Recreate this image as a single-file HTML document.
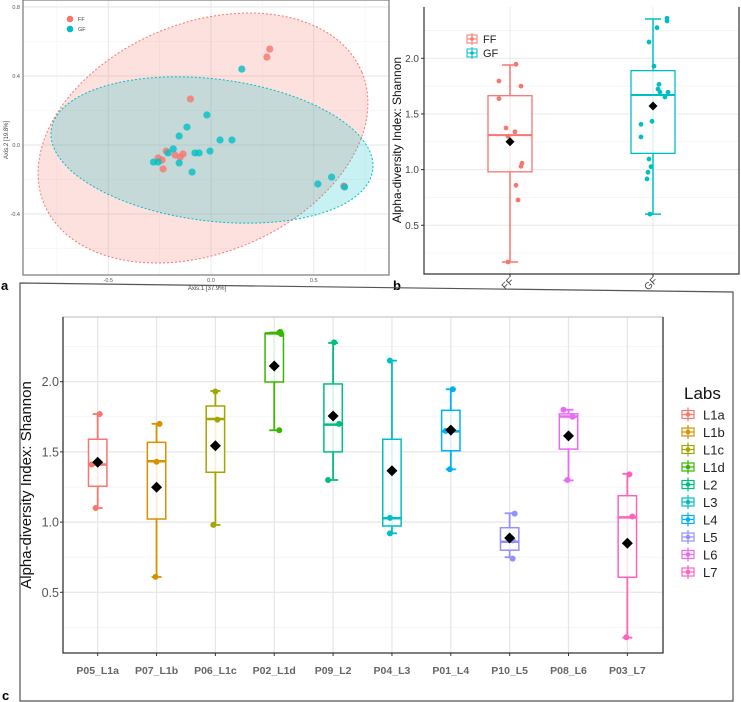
<!DOCTYPE html>
<html><head><meta charset="utf-8"><style>
html,body{margin:0;padding:0;background:#fff;}
svg{display:block;font-family:"Liberation Sans",sans-serif;}
</style></head><body>
<svg id="fig" width="741" height="702" viewBox="0 0 741 702" xmlns="http://www.w3.org/2000/svg">
<g id="pa"></g>
<g id="pb"></g>
<g id="pc"></g>
</svg>
<script>
// ---------- Panel a data ----------
const ffX = [0.286,0.272,-0.10,-0.218,-0.257,-0.238,-0.175,-0.136,-0.15,-0.233,0.646];
const ffY = [0.556,0.51,0.267,-0.035,-0.075,-0.087,-0.058,-0.052,-0.07,-0.139,-0.238];
const gfX = [0.15,-0.02,-0.117,-0.155,0.044,0.102,-0.184,-0.209,-0.28,-0.257,-0.155,-0.078,-0.058,-0.005,-0.092,0.52,0.587,0.65];
const gfY = [0.44,0.174,0.104,0.052,0.029,0.029,-0.023,-0.046,-0.099,-0.099,-0.104,-0.046,-0.046,-0.035,-0.157,-0.226,-0.186,-0.243];
const aXTicks = [-0.5,0.0,0.5];
const aYTicks = [-0.4,0.0,0.4,0.8];
// ---------- Panel b data ----------
const bGroups = ["FF","GF"];
const bStats = [[0.17,0.98,1.31,1.664,1.94],[0.60,1.146,1.67,1.889,2.353]];
const bMeans = [1.25,1.571];
const bFF = [1.796,1.946,1.75,1.637,1.374,1.34,1.30,1.057,1.03,0.859,0.727,0.17];
const bFFjit = [-11,6,11,-11,-4,5,-2,12,11,6,8,-2];
const bGF = [2.36,2.335,2.275,2.146,1.93,1.766,1.724,1.697,1.695,1.652,1.407,1.434,1.293,1.095,1.026,0.976,0.916,0.60];
const bGFjit = [14,14,4,-4,1,6,5,7,15,12,-12,-1,-12,-4,-2,-5,-6,-3];
const bYTicks = [0.5,1.0,1.5,2.0];
// ---------- Panel c data ----------
const cCats = ["P05_L1a","P07_L1b","P06_L1c","P02_L1d","P09_L2","P04_L3","P01_L4","P10_L5","P08_L6","P03_L7"];
const cLabs = ["L1a","L1b","L1c","L1d","L2","L3","L4","L5","L6","L7"];
const cMin = [1.10,0.609,0.98,1.654,1.30,0.92,1.376,0.75,1.297,0.177];
const cQ1 = [1.255,1.022,1.355,1.998,1.50,0.972,1.508,0.80,1.52,0.607];
const cMed = [1.41,1.433,1.734,2.344,1.694,1.027,1.646,0.86,1.752,1.034];
const cQ3 = [1.59,1.568,1.827,2.344,1.984,1.59,1.796,0.96,1.771,1.188];
const cMax = [1.77,1.70,1.934,2.35,2.276,2.15,1.946,1.063,1.80,1.344];
const cMean = [1.426,1.248,1.544,2.112,1.756,1.366,1.655,0.887,1.614,0.849];
const cPts = [[1.77,1.41,1.10],[1.70,1.43,0.61],[1.93,1.73,0.98],[2.35,2.355,2.34,1.654],[2.28,1.70,1.30],[2.15,1.03,0.92],[1.946,1.65,1.376],[1.06,0.87,0.74],[1.80,1.75,1.30],[1.34,1.04,0.18]];
const cJit = [[2,-6,-2],[3,0,-1],[0,2,-2],[5,6,7,5],[1,6,-5],[-2,-2,-2],[2,-5,-1],[5,3,3],[-5,4,-1],[2,5,-1]];
const cYTicks = [0.5,1.0,1.5,2.0];
const colors = ["#F8766D","#D89000","#A3A500","#39B600","#00BF7D","#00BFC4","#00B0F6","#9590FF","#E76BF3","#FF62BC"];

const NS="http://www.w3.org/2000/svg";
function mk(parent, tag, attrs, text){const e=document.createElementNS(NS,tag);for(const k in attrs)e.setAttribute(k,attrs[k]);if(text!==undefined)e.textContent=text;parent.appendChild(e);return e;}

// ===== Panel a =====
(function(){
 const g=document.getElementById('pa');
 const L=23,R=389,T=0,B=275;
 const ax=v=>211+v*205.5, ay=v=>145-v*172.5;
 mk(g,'rect',{x:L,y:T,width:R-L,height:B-T,fill:'#fff'});
 [-0.75,-0.25,0.25,0.75].forEach(v=>{mk(g,'line',{x1:ax(v),x2:ax(v),y1:T,y2:B,stroke:'#f2f2f2','stroke-width':0.6});});
 [-0.6,-0.2,0.2,0.6].forEach(v=>{mk(g,'line',{x1:L,x2:R,y1:ay(v),y2:ay(v),stroke:'#f2f2f2','stroke-width':0.6});});
 aXTicks.forEach(v=>{const l=mk(g,'line',{x1:ax(v),x2:ax(v),y1:T,y2:B,stroke:'#e6e6e6','stroke-width':0.9});
   const t=mk(g,'text',{x:ax(v),y:B+7,'font-size':5.5,fill:'#555','text-anchor':'middle'},v.toFixed(1));});
 aYTicks.forEach(v=>{mk(g,'line',{x1:L,x2:R,y1:ay(v),y2:ay(v),stroke:'#e6e6e6','stroke-width':0.9});
   const t=mk(g,'text',{x:L-3,y:ay(v)+2,'font-size':5.5,fill:'#555','text-anchor':'end'},v.toFixed(1));});
 const e1=mk(g,'ellipse',{cx:203,cy:138,rx:172,ry:115,transform:'rotate(-22.5 203 138)',fill:'#F8766D','fill-opacity':0.22,stroke:'#F8766D','stroke-width':1,'stroke-dasharray':'2,2'});
 
 const e2=mk(g,'ellipse',{cx:212,cy:150,rx:162,ry:71,transform:'rotate(7 212 150)',fill:'#00BFC4','fill-opacity':0.22,stroke:'#00BFC4','stroke-width':1,'stroke-dasharray':'2,2'});
 
 ffX.forEach((x,i)=>{const c=mk(g,'circle',{cx:ax(x),cy:ay(ffY[i]),r:3.6,fill:'#F8766D','fill-opacity':0.8});});
 gfX.forEach((x,i)=>{const c=mk(g,'circle',{cx:ax(x),cy:ay(gfY[i]),r:3.6,fill:'#00BFC4','fill-opacity':0.8});});
 mk(g,'rect',{x:L,y:T,width:R-L,height:B-T,fill:'none',stroke:'#777','stroke-width':1.2});
 mk(g,'circle',{cx:70,cy:19,r:3.3,fill:'#F8766D'});mk(g,'text',{x:78,y:21,'font-size':5.5,fill:'#444'},'FF');
 mk(g,'circle',{cx:70,cy:29,r:3.3,fill:'#00BFC4'});mk(g,'text',{x:78,y:31,'font-size':5.5,fill:'#444'},'GF');
 const xt=mk(g,'text',{x:207,y:290,'font-size':6,fill:'#444','text-anchor':'middle'},'Axis.1   [37.9%]');
 const yt=mk(g,'text',{x:8,y:140,'font-size':6,fill:'#444','text-anchor':'middle',transform:'rotate(-90 8 140)'},'Axis.2   [19.8%]');
 mk(g,'text',{x:1,y:290,'font-size':13,'font-weight':'bold',fill:'#000'},'a');
})();

// ===== Panel b =====
(function(){
 const g=document.getElementById('pb');
 const L=424,R=739,T=7,B=274;
 const by=v=>58.3+(2.0-v)*111.3;
 const bx=[510,653];
 [0.25,0.75,1.25,1.75,2.25].forEach(v=>mk(g,'line',{x1:L,x2:R,y1:by(v),y2:by(v),stroke:'#f2f2f2','stroke-width':0.7}));
 bYTicks.forEach(v=>{mk(g,'line',{x1:L,x2:R,y1:by(v),y2:by(v),stroke:'#e8e8e8','stroke-width':1});
  mk(g,'line',{x1:L-3,x2:L,y1:by(v),y2:by(v),stroke:'#333'});
  const t=mk(g,'text',{x:L-5,y:by(v)+3.5,'font-size':10,fill:'#444','text-anchor':'end'},v.toFixed(1));});
 bx.forEach(x=>mk(g,'line',{x1:x,x2:x,y1:T,y2:B,stroke:'#e8e8e8','stroke-width':1}));
 const cols=['#F8766D','#00BFC4'];
 bStats.forEach((s,i)=>{const x=bx[i],c=cols[i],hw=22;
  mk(g,'line',{x1:x,x2:x,y1:by(s[0]),y2:by(s[4]),stroke:c,'stroke-width':1.5});
  mk(g,'line',{x1:x-8,x2:x+8,y1:by(s[0]),y2:by(s[0]),stroke:c,'stroke-width':1.5});
  mk(g,'line',{x1:x-8,x2:x+8,y1:by(s[4]),y2:by(s[4]),stroke:c,'stroke-width':1.5});
  const r=mk(g,'rect',{x:x-hw,y:by(s[3]),width:2*hw,height:by(s[1])-by(s[3]),fill:'#fff','fill-opacity':0.85,stroke:c,'stroke-width':1.3});
  
  mk(g,'line',{x1:x-hw,x2:x+hw,y1:by(s[2]),y2:by(s[2]),stroke:c,'stroke-width':2});
  const t=mk(g,'text',{x:x,y:B+12,'font-size':10,fill:'#444','text-anchor':'middle',transform:`rotate(-45 ${x} ${B+12})`},bGroups[i]);
  mk(g,'line',{x1:x,x2:x,y1:B,y2:B+3,stroke:'#333'});
 });
 bFF.forEach((v,i)=>{const c=mk(g,'circle',{cx:bx[0]+bFFjit[i],cy:by(v),r:2.4,fill:'#F8766D'});});
 bGF.forEach((v,i)=>{const c=mk(g,'circle',{cx:bx[1]+bGFjit[i],cy:by(v),r:2.4,fill:'#00BFC4'});});
 bMeans.forEach((v,i)=>{const x=bx[i],y=by(v);const d=mk(g,'polygon',{points:`${x},${y-4.5} ${x+4.5},${y} ${x},${y+4.5} ${x-4.5},${y}`,fill:'#000'});});
 mk(g,'polyline',{points:`${L},${T} ${L},${B} ${R},${B} ${R},${T}`,fill:'none',stroke:'#333','stroke-width':1.2});
 [['FF','#F8766D',39],['GF','#00BFC4',53]].forEach(([n,c,y])=>{
  mk(g,'rect',{x:467,y:y-4,width:10,height:8,fill:'#fff',stroke:c,'stroke-width':1});
  mk(g,'line',{x1:472,x2:472,y1:y-6,y2:y+6,stroke:c});mk(g,'line',{x1:467,x2:477,y1:y,y2:y,stroke:c});
  mk(g,'circle',{cx:472,cy:y,r:1.8,fill:c});
  mk(g,'text',{x:483,y:y+4,'font-size':11,fill:'#222'},n);});
 const yt=mk(g,'text',{x:401,y:140,'font-size':12,fill:'#111','text-anchor':'middle',transform:'rotate(-90 401 140)'},'Alpha-diversity Index: Shannon');
 mk(g,'text',{x:393,y:290,'font-size':13,'font-weight':'bold',fill:'#000'},'b');
})();

// ===== Panel c =====
(function(){
 const g=document.getElementById('pc');
 mk(g,'polygon',{points:'20,283 733,292 733,701 20,701',fill:'none',stroke:'#555','stroke-width':1.2});
 const L=63,R=663,T=317,B=653;
 const cy=v=>381.7+(2.0-v)*140.4;
 const cx=i=>97.7+i*58.85;
 mk(g,'rect',{x:L,y:T,width:R-L,height:B-T,fill:'#fff'});
 [0.25,0.75,1.25,1.75,2.25].forEach(v=>mk(g,'line',{x1:L,x2:R,y1:cy(v),y2:cy(v),stroke:'#f2f2f2','stroke-width':0.8}));
 cYTicks.forEach(v=>{mk(g,'line',{x1:L,x2:R,y1:cy(v),y2:cy(v),stroke:'#e6e6e6','stroke-width':1.2});
  mk(g,'line',{x1:L-3,x2:L,y1:cy(v),y2:cy(v),stroke:'#333'});
  const t=mk(g,'text',{x:L-4,y:cy(v)+4.5,'font-size':12.5,fill:'#555','text-anchor':'end'},v.toFixed(1));});
 cCats.forEach((n,i)=>{const x=cx(i);mk(g,'line',{x1:x,x2:x,y1:T,y2:B,stroke:'#e6e6e6','stroke-width':1.2});
  mk(g,'line',{x1:x,x2:x,y1:B,y2:B+3,stroke:'#333'});
  const t=mk(g,'text',{x:x,y:674,'font-size':10.5,'font-weight':'bold',fill:'#666','text-anchor':'middle'},n);});
 cCats.forEach((n,i)=>{const x=cx(i),c=colors[i],hw=9.2;
  mk(g,'line',{x1:x,x2:x,y1:cy(cMin[i]),y2:cy(cMax[i]),stroke:c,'stroke-width':1.8});
  mk(g,'line',{x1:x-5,x2:x+5,y1:cy(cMin[i]),y2:cy(cMin[i]),stroke:c,'stroke-width':1.8});
  mk(g,'line',{x1:x-5,x2:x+5,y1:cy(cMax[i]),y2:cy(cMax[i]),stroke:c,'stroke-width':1.8});
  const r=mk(g,'rect',{x:x-hw,y:cy(cQ3[i]),width:2*hw,height:cy(cQ1[i])-cy(cQ3[i]),fill:'#fff','fill-opacity':0.85,stroke:c,'stroke-width':1.5});
  
  mk(g,'line',{x1:x-hw,x2:x+hw,y1:cy(cMed[i]),y2:cy(cMed[i]),stroke:c,'stroke-width':2.5});
  cPts[i].forEach((v,j)=>{const p=mk(g,'circle',{cx:x+cJit[i][j],cy:cy(v),r:3,fill:c});});
  const y=cy(cMean[i]);const d=mk(g,'polygon',{points:`${x},${y-5.5} ${x+5.5},${y} ${x},${y+5.5} ${x-5.5},${y}`,fill:'#000'});
  
 });
 mk(g,'rect',{x:L,y:T,width:R-L,height:B-T,fill:'none',stroke:'#bbb','stroke-width':1});
 mk(g,'polyline',{points:`${L},${T} ${L},${B} ${R},${B} ${R},${T}`,fill:'none',stroke:'#333','stroke-width':1.3});
 const yt=mk(g,'text',{x:31,y:485,'font-size':15,fill:'#111','text-anchor':'middle',transform:'rotate(-90 31 485)'},'Alpha-diversity Index: Shannon');
 const lt=mk(g,'text',{x:684,y:399,'font-size':17,fill:'#111'},'Labs');
 cLabs.forEach((n,i)=>{const y=414.5+i*17.5,c=colors[i];
  const lg=mk(g,'g',{});
  mk(lg,'rect',{x:682,y:y-4,width:12,height:8,fill:'#fff',stroke:c,'stroke-width':1.2});
  mk(lg,'line',{x1:688,x2:688,y1:y-7,y2:y+7,stroke:c,'stroke-width':1.2});mk(lg,'line',{x1:682,x2:694,y1:y,y2:y,stroke:c,'stroke-width':1.2});
  mk(lg,'circle',{cx:688,cy:y,r:2.3,fill:c});
  mk(lg,'text',{x:703,y:y+5,'font-size':13,fill:'#222'},n);});
 mk(g,'text',{x:2,y:700,'font-size':13,'font-weight':'bold',fill:'#000'},'c');
})();
</script>
</body></html>
